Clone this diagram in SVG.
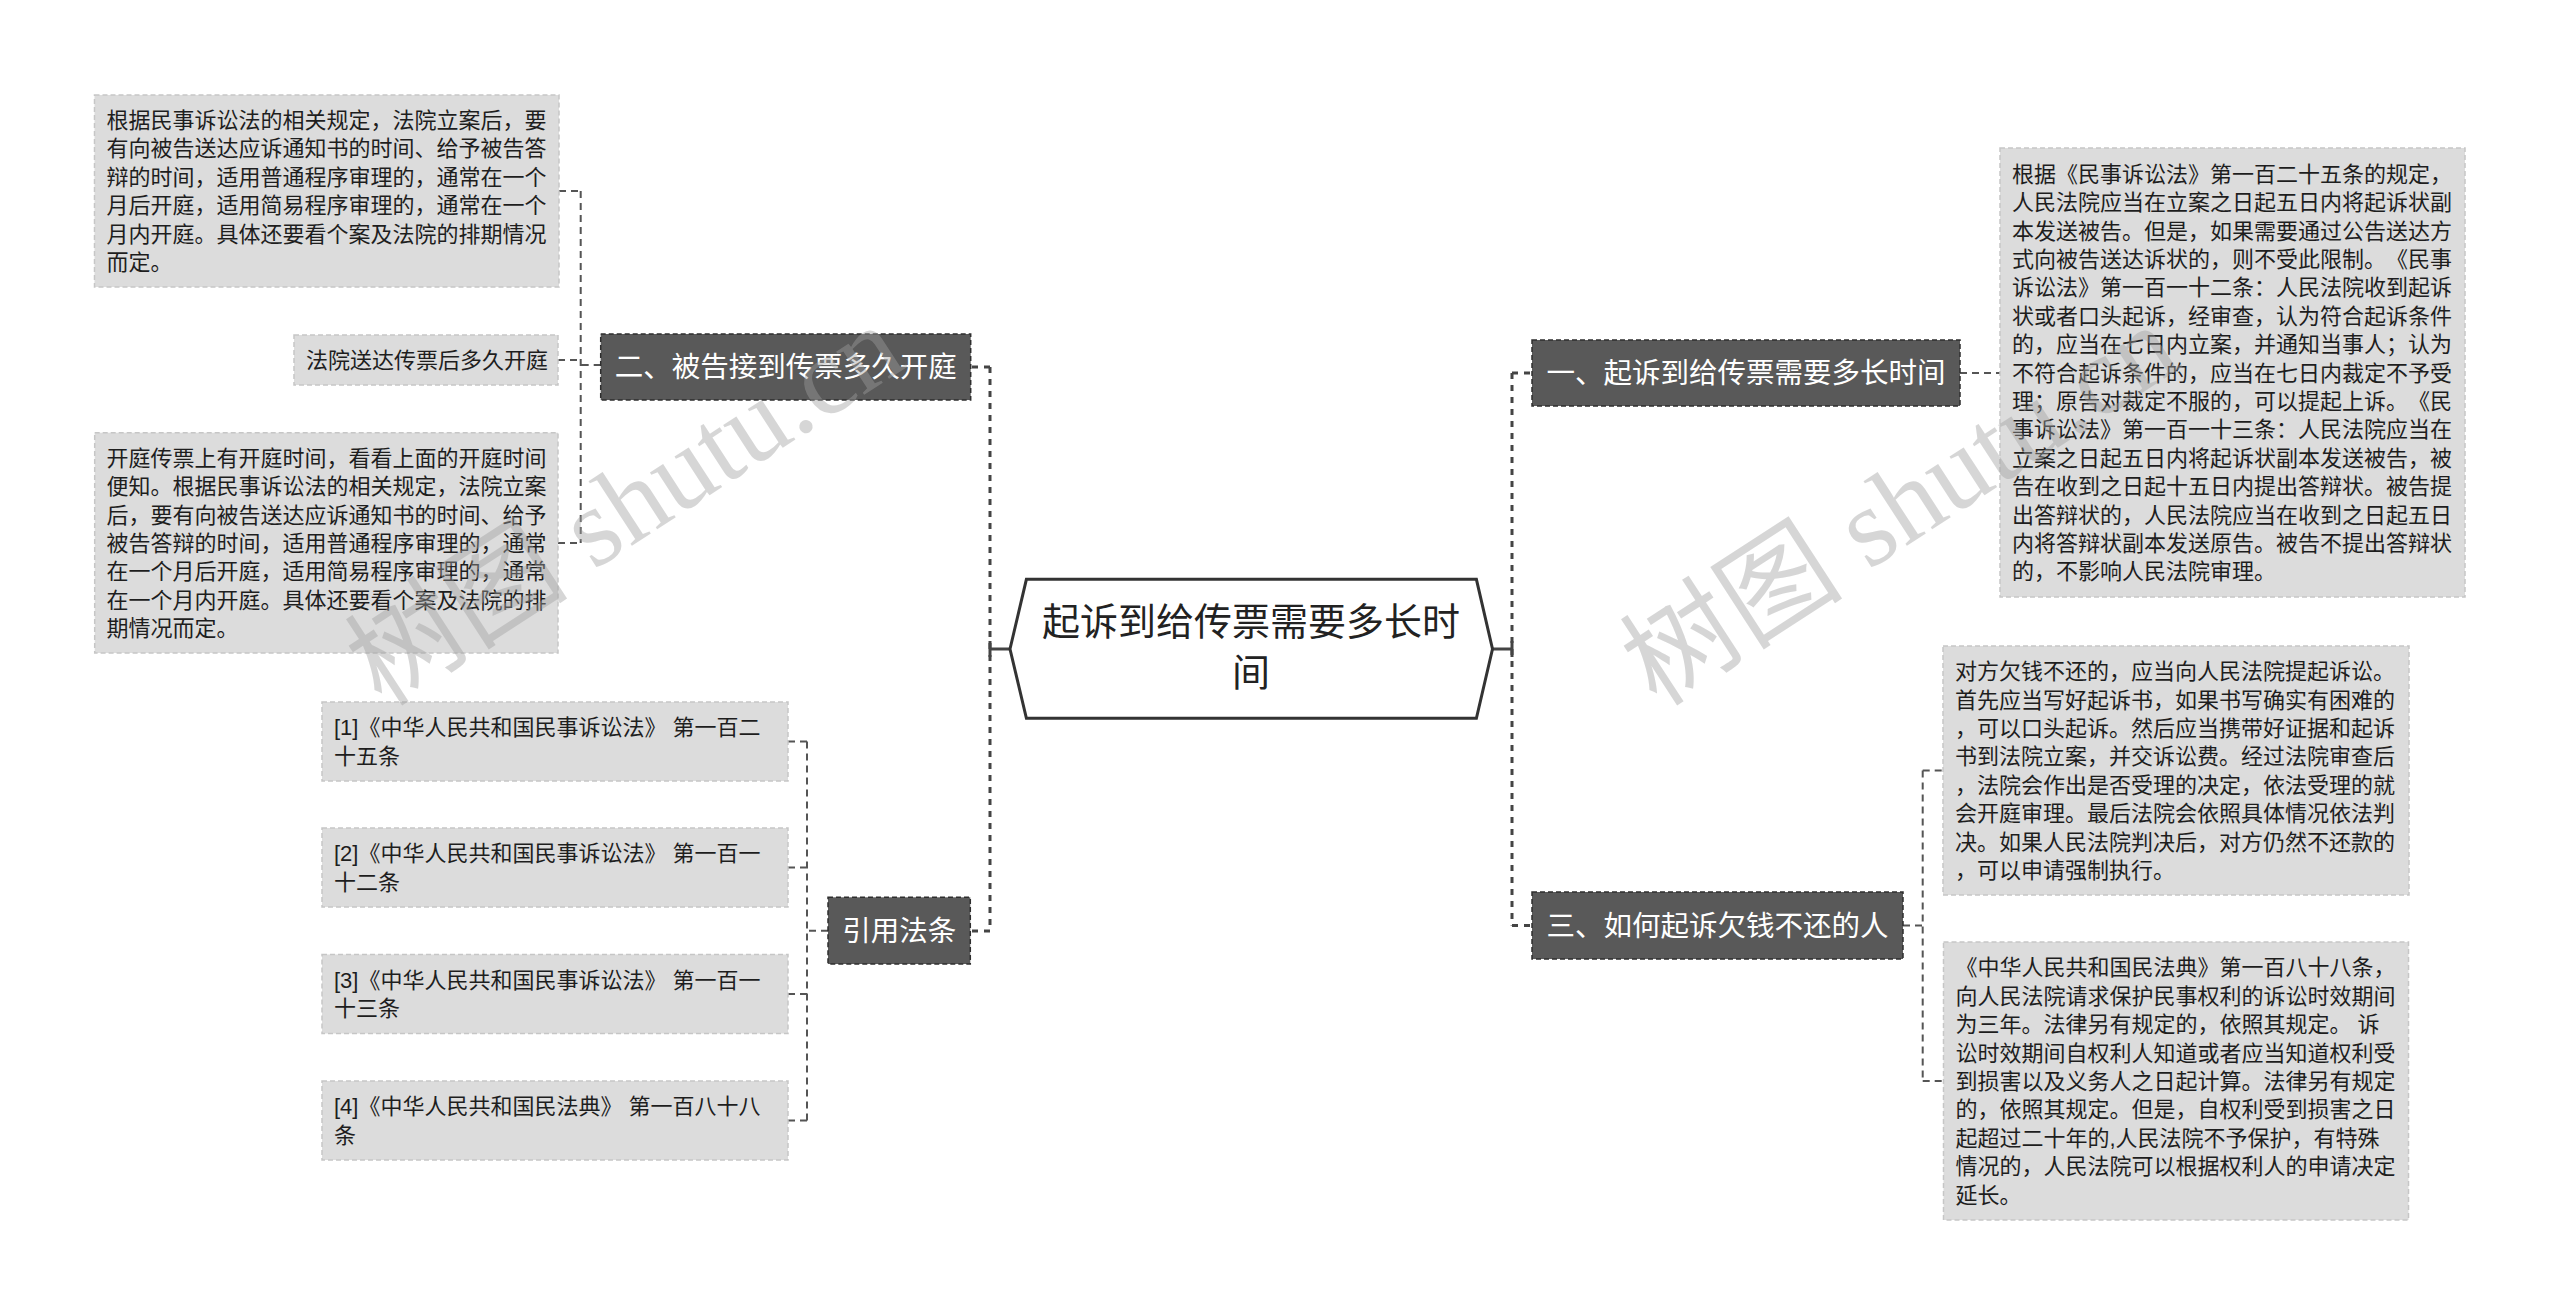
<svg xmlns="http://www.w3.org/2000/svg" width="2560" height="1315" viewBox="0 0 2560 1315">
<style>
.tb{fill:#dcdcdc;stroke:#c6c6c6;stroke-width:1.5;stroke-dasharray:5 3}
.db{fill:#595959;stroke:#2e2e2e;stroke-width:1.5;stroke-dasharray:5 3}
.t{font-family:"Liberation Sans","Noto Sans CJK SC",sans-serif;font-size:22px;fill:#1e1e1e;dominant-baseline:central;text-spacing-trim:space-all}
.dt{font-family:"Liberation Sans","Noto Sans CJK SC",sans-serif;font-size:28.5px;fill:#ffffff;text-anchor:middle;dominant-baseline:central;text-spacing-trim:space-all}
.ct{font-family:"Liberation Sans","Noto Sans CJK SC",sans-serif;font-size:38px;fill:#222;text-anchor:middle;dominant-baseline:central}
.c1{stroke:#444;stroke-width:3;stroke-dasharray:6 6;fill:none}
.c0{stroke:#444;stroke-width:3;fill:none}
.c2{stroke:#555;stroke-width:2;stroke-dasharray:7 5;fill:none}
.wm{font-family:"Liberation Serif","Noto Sans CJK SC",serif;font-size:112px;fill:#a0a0a0;opacity:0.42}
</style>
<rect width="2560" height="1315" fill="#ffffff"/>

<g id="connectors">
  <path class="c0" d="M1010 649 H990 M990 641 V657"/>
  <path class="c1" d="M990 367 V931 M990 367 H970.7 M990 931 H970.3"/>
  <path class="c0" d="M1492.5 649 H1512 M1512 641 V657"/>
  <path class="c1" d="M1512 373 V925.5 M1512 373 H1532 M1512 925.5 H1532"/>
  <path class="c2" d="M600.7 365 H580.7 M580.7 191 V543 M559 191 H580.7 M558 360 H580.7 M558 543 H580.7"/>
  <path class="c2" d="M828 930.7 H807 M807 741.5 V1120.5 M788 741.5 H807 M788 867.5 H807 M788 994 H807 M788 1120.5 H807"/>
  <path class="c2" d="M1960 373 H2000"/>
  <path class="c2" d="M1903 925.5 H1922.7 M1922.7 770.5 V1081 M1922.7 770.5 H1943 M1922.7 1081 H1943"/>
</g>

<g id="root">
  <polygon points="1010,649 1026.4,579.3 1476.4,579.3 1492.5,649 1476.4,718.3 1026.4,718.3" fill="#ffffff" stroke="#333" stroke-width="3"/>
  <text class="ct" x="1251" y="622">起诉到给传票需要多长时</text>
  <text class="ct" x="1251" y="673">间</text>
</g>

<g id="n-er">
  <rect class="db" x="600.7" y="334" width="370" height="66"/>
  <text class="dt" x="785.7" y="367">二、被告接到传票多久开庭</text>
</g>
<g id="n-er-1">
  <rect class="tb" x="94.5" y="95" width="464.5" height="192"/>
  <text class="t">
    <tspan x="106.5" y="120">根据民事诉讼法的相关规定，法院立案后，要</tspan>
    <tspan x="106.5" y="148.4">有向被告送达应诉通知书的时间、给予被告答</tspan>
    <tspan x="106.5" y="176.8">辩的时间，适用普通程序审理的，通常在一个</tspan>
    <tspan x="106.5" y="205.2">月后开庭，适用简易程序审理的，通常在一个</tspan>
    <tspan x="106.5" y="233.6">月内开庭。具体还要看个案及法院的排期情况</tspan>
    <tspan x="106.5" y="262">而定。</tspan>
  </text>
</g>
<g id="n-er-2">
  <rect class="tb" x="294" y="335" width="264" height="50"/>
  <text class="t" x="306" y="360">法院送达传票后多久开庭</text>
</g>
<g id="n-er-3">
  <rect class="tb" x="94.7" y="432.7" width="463.3" height="220.3"/>
  <text class="t">
    <tspan x="106.5" y="457.8">开庭传票上有开庭时间，看看上面的开庭时间</tspan>
    <tspan x="106.5" y="486.2">便知。根据民事诉讼法的相关规定，法院立案</tspan>
    <tspan x="106.5" y="514.6">后，要有向被告送达应诉通知书的时间、给予</tspan>
    <tspan x="106.5" y="543">被告答辩的时间，适用普通程序审理的，通常</tspan>
    <tspan x="106.5" y="571.4">在一个月后开庭，适用简易程序审理的，通常</tspan>
    <tspan x="106.5" y="599.8">在一个月内开庭。具体还要看个案及法院的排</tspan>
    <tspan x="106.5" y="628.2">期情况而定。</tspan>
  </text>
</g>

<g id="n-yin">
  <rect class="db" x="828" y="897.3" width="142.3" height="66.7"/>
  <text class="dt" x="899.2" y="930.7">引用法条</text>
</g>
<g id="n-yin-1">
  <rect class="tb" x="322" y="702" width="466" height="79"/>
  <text class="t"><tspan x="334" y="727.3">[1]《中华人民共和国民事诉讼法》 第一百二</tspan><tspan x="334" y="755.7">十五条</tspan></text>
</g>
<g id="n-yin-2">
  <rect class="tb" x="322" y="828" width="466" height="79"/>
  <text class="t"><tspan x="334" y="853.3">[2]《中华人民共和国民事诉讼法》 第一百一</tspan><tspan x="334" y="881.7">十二条</tspan></text>
</g>
<g id="n-yin-3">
  <rect class="tb" x="322" y="954.5" width="466" height="79"/>
  <text class="t"><tspan x="334" y="979.8">[3]《中华人民共和国民事诉讼法》 第一百一</tspan><tspan x="334" y="1008.2">十三条</tspan></text>
</g>
<g id="n-yin-4">
  <rect class="tb" x="322" y="1081" width="466" height="79"/>
  <text class="t"><tspan x="334" y="1106.3">[4]《中华人民共和国民法典》 第一百八十八</tspan><tspan x="334" y="1134.7">条</tspan></text>
</g>

<g id="n-yi">
  <rect class="db" x="1532" y="340" width="428" height="66"/>
  <text class="dt" x="1746" y="373">一、起诉到给传票需要多长时间</text>
</g>
<g id="n-yi-1">
  <rect class="tb" x="2000" y="148" width="465" height="449"/>
  <text class="t">
    <tspan x="2012" y="173.7">根据《民事诉讼法》第一百二十五条的规定，</tspan>
    <tspan x="2012" y="202.1">人民法院应当在立案之日起五日内将起诉状副</tspan>
    <tspan x="2012" y="230.5">本发送被告。但是，如果需要通过公告送达方</tspan>
    <tspan x="2012" y="258.9">式向被告送达诉状的，则不受此限制。《民事</tspan>
    <tspan x="2012" y="287.3">诉讼法》第一百一十二条：人民法院收到起诉</tspan>
    <tspan x="2012" y="315.7">状或者口头起诉，经审查，认为符合起诉条件</tspan>
    <tspan x="2012" y="344.1">的，应当在七日内立案，并通知当事人；认为</tspan>
    <tspan x="2012" y="372.5">不符合起诉条件的，应当在七日内裁定不予受</tspan>
    <tspan x="2012" y="400.9">理；原告对裁定不服的，可以提起上诉。《民</tspan>
    <tspan x="2012" y="429.3">事诉讼法》第一百一十三条：人民法院应当在</tspan>
    <tspan x="2012" y="457.7">立案之日起五日内将起诉状副本发送被告，被</tspan>
    <tspan x="2012" y="486.1">告在收到之日起十五日内提出答辩状。被告提</tspan>
    <tspan x="2012" y="514.5">出答辩状的，人民法院应当在收到之日起五日</tspan>
    <tspan x="2012" y="542.9">内将答辩状副本发送原告。被告不提出答辩状</tspan>
    <tspan x="2012" y="571.3">的，不影响人民法院审理。</tspan>
  </text>
</g>

<g id="n-san">
  <rect class="db" x="1532" y="892" width="371" height="67"/>
  <text class="dt" x="1717.5" y="925.5">三、如何起诉欠钱不还的人</text>
</g>
<g id="n-san-1">
  <rect class="tb" x="1943" y="646" width="466" height="249"/>
  <text class="t">
    <tspan x="1955" y="671.1">对方欠钱不还的，应当向人民法院提起诉讼。</tspan>
    <tspan x="1955" y="699.5">首先应当写好起诉书，如果书写确实有困难的</tspan>
    <tspan x="1955" y="727.9">，可以口头起诉。然后应当携带好证据和起诉</tspan>
    <tspan x="1955" y="756.3">书到法院立案，并交诉讼费。经过法院审查后</tspan>
    <tspan x="1955" y="784.7">，法院会作出是否受理的决定，依法受理的就</tspan>
    <tspan x="1955" y="813.1">会开庭审理。最后法院会依照具体情况依法判</tspan>
    <tspan x="1955" y="841.5">决。如果人民法院判决后，对方仍然不还款的</tspan>
    <tspan x="1955" y="869.9">，可以申请强制执行。</tspan>
  </text>
</g>
<g id="n-san-2">
  <rect class="tb" x="1943.5" y="942" width="465" height="278"/>
  <text class="t">
    <tspan x="1955.5" y="967.4">《中华人民共和国民法典》第一百八十八条，</tspan>
    <tspan x="1955.5" y="995.8">向人民法院请求保护民事权利的诉讼时效期间</tspan>
    <tspan x="1955.5" y="1024.2">为三年。法律另有规定的，依照其规定。 诉</tspan>
    <tspan x="1955.5" y="1052.6">讼时效期间自权利人知道或者应当知道权利受</tspan>
    <tspan x="1955.5" y="1081">到损害以及义务人之日起计算。法律另有规定</tspan>
    <tspan x="1955.5" y="1109.4">的，依照其规定。但是，自权利受到损害之日</tspan>
    <tspan x="1955.5" y="1137.8">起超过二十年的,人民法院不予保护，有特殊</tspan>
    <tspan x="1955.5" y="1166.2">情况的，人民法院可以根据权利人的申请决定</tspan>
    <tspan x="1955.5" y="1194.6">延长。</tspan>
  </text>
</g>

<g id="watermark">
  <text class="wm" transform="translate(382,708) rotate(-33)">树图 shutu.cn</text>
  <text class="wm" transform="translate(1657,708) rotate(-33)">树图 shutu.cn</text>
</g>
</svg>
